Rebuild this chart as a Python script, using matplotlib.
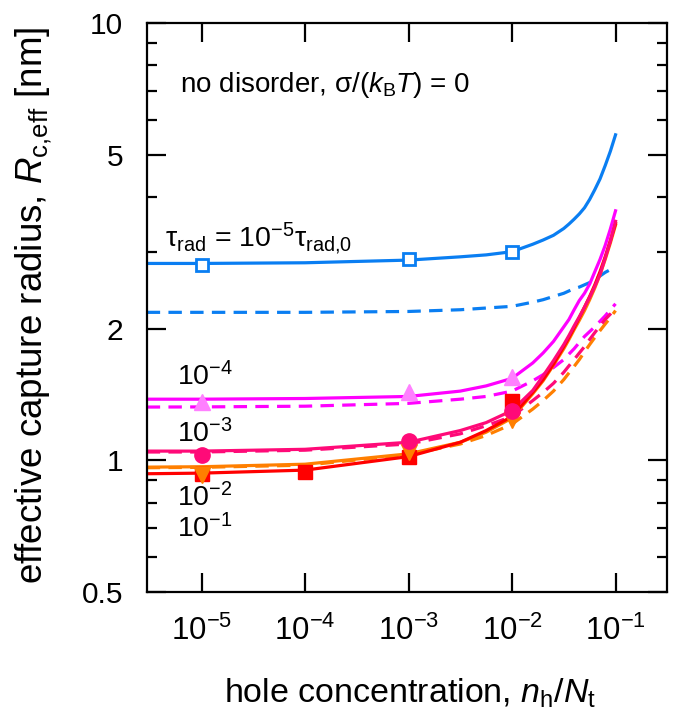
import numpy as np
import matplotlib
matplotlib.use("Agg")
import matplotlib.pyplot as plt
from matplotlib.ticker import FixedLocator, FixedFormatter, NullLocator, NullFormatter

plt.rcParams['font.family'] = ['Liberation Sans', 'DejaVu Sans']
plt.rcParams['mathtext.fontset'] = 'custom'
plt.rcParams['mathtext.rm'] = 'Liberation Sans'
plt.rcParams['mathtext.it'] = 'Liberation Sans:italic'
plt.rcParams['mathtext.bf'] = 'Liberation Sans:bold'

# ---- data ----
log_x = [-5.53, -5.0, -4.0, -3.0, -2.5, -2.25, -2.0, -1.8, -1.7, -1.6, -1.5, -1.45, -1.4,
         -1.35, -1.3, -1.25, -1.2, -1.15, -1.1, -1.05, -1.0]

blue_solid    = [2.82, 2.82, 2.83, 2.87, 2.92, 2.95, 3.00, 3.12, 3.19, 3.27, 3.39, 3.47, 3.56,
                 3.66, 3.78, 3.95, 4.16, 4.40, 4.72, 5.09, 5.55]
blue_dashed   = [2.18, 2.18, 2.18, 2.19, 2.21, 2.23, 2.25, 2.30, 2.33, 2.37, 2.41, 2.44, 2.47,
                 2.49, 2.52, 2.55, 2.59, 2.64, 2.69, 2.73, 2.78]
mag_solid     = [1.38, 1.38, 1.385, 1.40, 1.44, 1.48, 1.54, 1.67, 1.76, 1.87, 2.02, 2.10, 2.21,
                 2.32, 2.41, 2.53, 2.70, 2.88, 3.10, 3.38, 3.72]
mag_dashed    = [1.324, 1.325, 1.33, 1.35, 1.38, 1.40, 1.44, 1.52, 1.57, 1.63, 1.70, 1.75, 1.80,
                 1.86, 1.92, 1.97, 2.02, 2.08, 2.14, 2.21, 2.28]
crim_solid    = [1.05, 1.05, 1.06, 1.10, 1.17, 1.22, 1.30, 1.445, 1.56, 1.69, 1.84, 1.93, 2.03,
                 2.13, 2.24, 2.36, 2.50, 2.66, 2.90, 3.17, 3.52]
crim_dashed   = [1.045, 1.045, 1.055, 1.09, 1.15, 1.20, 1.26, 1.37, 1.43, 1.50, 1.59, 1.645, 1.70,
                 1.76, 1.82, 1.89, 1.96, 2.03, 2.10, 2.16, 2.23]
orange_solid  = [0.965, 0.967, 0.98, 1.035, 1.10, 1.16, 1.25, 1.42, 1.52, 1.65, 1.80, 1.89, 1.99,
                 2.09, 2.20, 2.33, 2.48, 2.66, 2.88, 3.14, 3.45]
orange_dashed = [0.962, 0.964, 0.975, 1.03, 1.09, 1.14, 1.21, 1.31, 1.37, 1.44, 1.53, 1.585, 1.64,
                 1.70, 1.77, 1.84, 1.91, 1.98, 2.05, 2.12, 2.20]
red_solid     = [0.932, 0.935, 0.95, 1.02, 1.10, 1.17, 1.26, 1.43, 1.53, 1.66, 1.82, 1.91, 2.01,
                 2.12, 2.24, 2.37, 2.52, 2.70, 2.92, 3.18, 3.48]

mk_x3 = [1e-5, 1e-3, 1e-2]
blue_sq_y = [2.80, 2.88, 3.00]
violet_tri_y = [1.36, 1.43, 1.55]
crim_circ_y = [1.03, 1.11, 1.30]
red_sq_x = [1e-5, 1e-4, 1e-3, 1e-2]
red_sq_y = [0.93, 0.94, 1.02, 1.37]
orange_tri_y = [0.925, 1.045, 1.235]

xtick_vals = [1e-5, 1e-4, 1e-3, 1e-2, 1e-1]
xtick_labels = ['$10^{-5}$', '$10^{-4}$', '$10^{-3}$', '$10^{-2}$', '$10^{-1}$']
ytick_vals = [0.5, 1, 2, 5, 10]
ytick_labels = ['0.5', '1', '2', '5', '10']
yminor_vals = [0.6, 0.7, 0.8, 0.9, 3, 4, 6, 7, 8, 9]

BLUE = '#0A7EF2'
MAG = '#FF00FF'
VIOLET = '#FF80FF'
CRIM = '#FF0A78'
RED = '#FF0000'
ORANGE = '#FF7F00'

x = 10.0 ** np.array(log_x)

fig = plt.figure(figsize=(6.73, 7.12), dpi=100)
ax = fig.add_axes([0.218, 0.1685, 0.7735, 0.7992])

lw = 2.3
dash = (0, (4.2, 2.6))
ax.plot(x, blue_dashed, color=BLUE, lw=lw, ls=dash)
ax.plot(x, mag_dashed, color=MAG, lw=lw, ls=dash)
ax.plot(x, orange_dashed, color=ORANGE, lw=lw, ls=dash)
ax.plot(x, crim_dashed, color=CRIM, lw=lw, ls=dash)
ax.plot(x, blue_solid, color=BLUE, lw=lw)
ax.plot(x, mag_solid, color=MAG, lw=lw)
ax.plot(x, orange_solid, color=ORANGE, lw=lw)
ax.plot(x, red_solid, color=RED, lw=lw)
ax.plot(x, crim_solid, color=CRIM, lw=lw)

ax.plot(mk_x3, blue_sq_y, ls='none', marker='s', ms=9, mfc='white', mec=BLUE, mew=2)
ax.plot(red_sq_x, red_sq_y, ls='none', marker='s', ms=10, color=RED, mec=RED)
ax.plot(mk_x3, orange_tri_y, ls='none', marker='v', ms=12, color=ORANGE, mec=ORANGE)
ax.plot(mk_x3, crim_circ_y, ls='none', marker='o', ms=11, color=CRIM, mec=CRIM)
ax.plot(mk_x3, violet_tri_y, ls='none', marker='^', ms=12, color=VIOLET, mec=VIOLET)

ax.set_xscale('log')
ax.set_yscale('log')
ax.set_xlim(10 ** -5.53, 10 ** -0.5)
ax.set_ylim(0.5, 10)

ax.xaxis.set_major_locator(FixedLocator(xtick_vals))
ax.xaxis.set_major_formatter(FixedFormatter(xtick_labels))
ax.xaxis.set_minor_locator(NullLocator())
ax.yaxis.set_major_locator(FixedLocator(ytick_vals))
ax.yaxis.set_major_formatter(FixedFormatter(ytick_labels))
ax.yaxis.set_minor_locator(FixedLocator(yminor_vals))
ax.yaxis.set_minor_formatter(NullFormatter())

ax.tick_params(which='both', direction='in', top=True, right=True, width=1.6)
ax.tick_params(which='major', length=14)
ax.tick_params(which='minor', length=7)
ax.tick_params(axis='x', which='major', pad=17, labelsize=22.5)
ax.tick_params(axis='y', which='major', pad=17, labelsize=21.5)
for s in ax.spines.values():
    s.set_linewidth(1.6)

tfs = 20
ax.text(0.064, 0.891, r'no disorder, σ/($k_\mathrm{B}T$) = 0', transform=ax.transAxes,
        fontsize=tfs, ha='left', va='center')
ax.text(0.035, 0.622, r'τ$_\mathrm{rad}$ = 10$^{-5}$τ$_\mathrm{rad{,}0}$', transform=ax.transAxes,
        fontsize=20.5, ha='left', va='center')
ax.text(0.058, 0.378, r'10$^{-4}$', transform=ax.transAxes, fontsize=20.5, ha='left', va='center')
ax.text(0.058, 0.279, r'10$^{-3}$', transform=ax.transAxes, fontsize=20.5, ha='left', va='center')
ax.text(0.058, 0.165, r'10$^{-2}$', transform=ax.transAxes, fontsize=20.5, ha='left', va='center')
ax.text(0.058, 0.112, r'10$^{-1}$', transform=ax.transAxes, fontsize=20.5, ha='left', va='center')

fig.text(410 / 673, 1 - 703 / 712, r'hole concentration, $n_\mathrm{h}/N_\mathrm{t}$',
         fontsize=24.5, ha='center', va='baseline')
fig.text(43 / 673, 1 - 305 / 712, r'effective capture radius, $R_\mathrm{c{,}eff}$ [nm]',
         fontsize=26.5, ha='center', va='baseline', rotation=90, rotation_mode='anchor')

fig.savefig('out.png', dpi=100)
